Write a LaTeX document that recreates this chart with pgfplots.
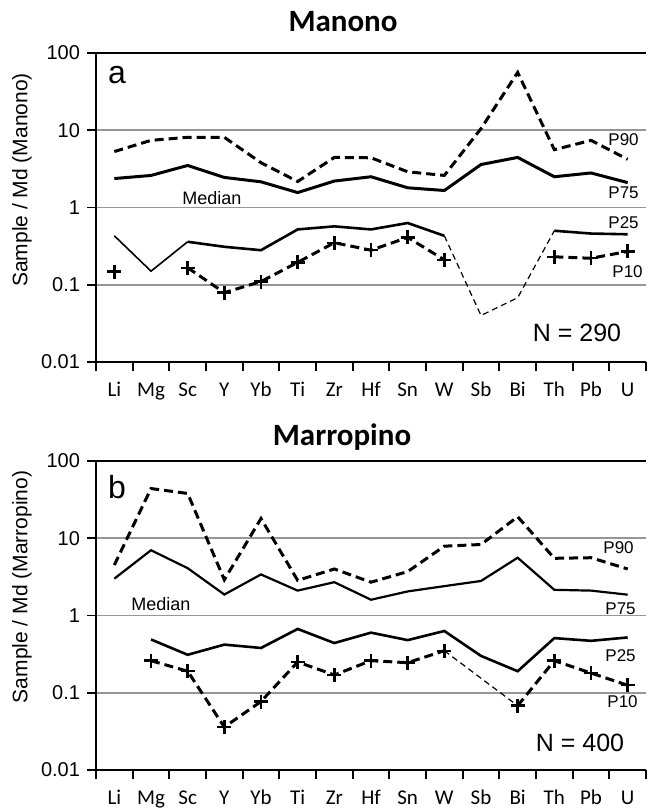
\documentclass[border=0pt]{standalone}
\usepackage{fontspec}
\setmainfont{Liberation Sans}
\newfontfamily\calibri{Carlito}
\usepackage{pgfplots}
\pgfplotsset{compat=1.18}
\definecolor{gridgray}{RGB}{150,150,150}
\pgfplotsset{
  every axis/.append style={
    scale only axis, width=275pt, height=154.5pt,
    xmin=-0.5, xmax=14.5,
    ymin=0.01, ymax=100,
    axis x line*=bottom, axis y line*=left,
    axis line style={-, line width=1pt, black},
    ytick={0.01,0.1,1,10,100}, yticklabels={0.01,0.1,1,10,100},
    yminorticks=false,
    ymajorgrids, major grid style={gridgray, line width=0.9pt},
    xtick={-0.5,0.5,...,14.5}, xticklabels={},
    extra x ticks={0,...,14},
    extra x tick labels={Li,Mg,Sc,Y,Yb,Ti,Zr,Hf,Sn,W,Sb,Bi,Th,Pb,U},
    extra x tick style={tickwidth=0pt, xticklabel style={font=\calibri\fontsize{10.5}{12}\selectfont, text height=7.4pt, text depth=2.2pt, yshift=-6.5pt}},
    tick align=outside, major tick length=4.5pt,
    tick style={black, line width=0.9pt},
    yticklabel style={font=\fontsize{10}{12}\selectfont},
    clip=false,
  },
  p90/.style={black, line width=1.5pt, dash pattern=on 4.5pt off 2.5pt},
  p75/.style={black, line width=1.5pt},
  p25/.style={black, line width=1.3pt},
  thin25/.style={black, line width=0.8pt},
  p10/.style={black, line width=1.5pt, dash pattern=on 4.5pt off 2.5pt, mark=+, mark size=3.5pt, mark options={solid, line width=1.2pt}},
  thindash/.style={black, line width=0.6pt, dash pattern=on 3pt off 2pt},
}
\begin{document}
\begin{tikzpicture}
\path[use as bounding box] (0,0) rectangle (325pt,406pt);
% ---------------- Manono
\begin{semilogyaxis}[at={(48pt,225pt)}, anchor=south west]
\addplot[p90] coordinates {(0,5.3)(1,7.4)(2,8.1)(3,8.1)(4,3.8)(5,2.17)(6,4.45)(7,4.4)(8,2.9)(9,2.6)(10,10.5)(11,56)(12,5.6)(13,7.4)(14,4.2)};
\addplot[p75] coordinates {(0,2.37)(1,2.6)(2,3.5)(3,2.45)(4,2.15)(5,1.56)(6,2.2)(7,2.5)(8,1.8)(9,1.66)(10,3.6)(11,4.45)(12,2.5)(13,2.8)(14,2.1)};
\addplot[thin25] coordinates {(0,0.43)(1,0.15)(2,0.36)};
\addplot[p25] coordinates {(2,0.36)(3,0.31)(4,0.28)(5,0.52)(6,0.57)(7,0.52)(8,0.63)(9,0.43)};
\addplot[thindash] coordinates {(9,0.43)(10,0.04)(11,0.068)(12,0.5)};
\addplot[p25] coordinates {(12,0.5)(13,0.46)(14,0.45)};
\addplot[p10, only marks] coordinates {(0,0.148)};
\addplot[p10] coordinates {(2,0.166)(3,0.079)(4,0.11)(5,0.195)(6,0.35)(7,0.28)(8,0.41)(9,0.21)};
\addplot[p10] coordinates {(12,0.23)(13,0.22)(14,0.27)};
\draw[black, line width=1pt] (rel axis cs:0,1) -- (rel axis cs:1,1);
\end{semilogyaxis}
% ---------------- Marropino
\begin{semilogyaxis}[at={(48pt,21pt)}, anchor=south west]
\addplot[p90] coordinates {(0,4.5)(1,44)(2,38)(3,2.9)(4,18)(5,2.85)(6,4.0)(7,2.7)(8,3.7)(9,7.9)(10,8.3)(11,19)(12,5.5)(13,5.6)(14,4.0)};
\addplot[p75, line width=1.1pt] coordinates {(0,3.0)(1,7.0)(2,4.1)(3,1.87)(4,3.4)(5,2.1)(6,2.7)(7,1.6)(8,2.05)(9,2.4)(10,2.8)(11,5.6)(12,2.15)(13,2.1)(14,1.86)};
\addplot[p25] coordinates {(1,0.49)(2,0.31)(3,0.42)(4,0.38)(5,0.67)(6,0.44)(7,0.6)(8,0.48)(9,0.63)(10,0.30)(11,0.19)(12,0.51)(13,0.47)(14,0.52)};
\addplot[p10] coordinates {(1,0.26)(2,0.19)(3,0.036)(4,0.077)(5,0.25)(6,0.17)(7,0.26)(8,0.245)(9,0.35)};
\addplot[thindash] coordinates {(9,0.35)(11,0.068)};
\addplot[p10] coordinates {(11,0.068)(12,0.26)(13,0.18)(14,0.125)};
\draw[black, line width=1pt] (rel axis cs:0,1) -- (rel axis cs:1,1);
\end{semilogyaxis}
% ---------------- texts
\node[font=\calibri\bfseries\fontsize{15.5}{18}\selectfont] at (171.5pt,395pt) {Manono};
\node[font=\calibri\bfseries\fontsize{15.5}{18}\selectfont] at (171pt,187.5pt) {Marropino};
\node[rotate=90, font=\fontsize{10.5}{12}\selectfont] at (11pt,316pt) {Sample / Md (Manono)};
\node[rotate=90, font=\fontsize{10.5}{12}\selectfont] at (11pt,112.5pt) {Sample / Md (Marropino)};
\node[font=\fontsize{16}{18}\selectfont] at (58.5pt,368.5pt) {a};
\node[font=\fontsize{16}{18}\selectfont] at (58.5pt,162.5pt) {b};
\node[font=\fontsize{9}{11}\selectfont] at (106pt,307pt) {Median};
\node[font=\fontsize{9}{11}\selectfont] at (80.5pt,104pt) {Median};
\node[font=\fontsize{12.5}{14}\selectfont] at (288.5pt,239.5pt) {N = 290};
\node[font=\fontsize{12.5}{14}\selectfont] at (290pt,34.5pt) {N = 400};
\begin{scope}[every node/.style={anchor=west, inner sep=0pt, font=\fontsize{8.5}{10}\selectfont}]
\node at (304pt,336pt) {P90};
\node at (304pt,309.5pt) {P75};
\node at (304pt,294.5pt) {P25};
\node at (306pt,270pt) {P10};
\node at (301.5pt,132pt) {P90};
\node at (302.5pt,101.5pt) {P75};
\node at (302.5pt,78pt) {P25};
\node at (303.5pt,55pt) {P10};
\end{scope}
\end{tikzpicture}
\end{document}
